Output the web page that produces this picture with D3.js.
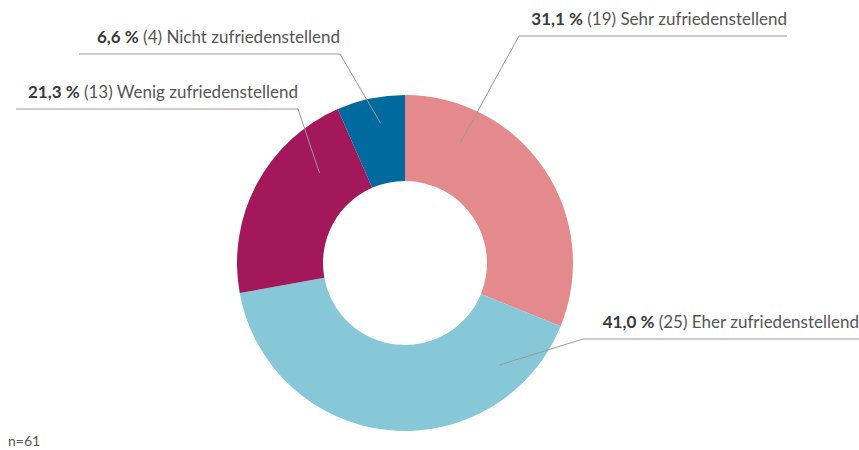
<!DOCTYPE html>
<meta charset="utf-8">
<script src="https://d3js.org/d3.v7.js"></script>
<style>
  body { margin: 0; background: #fff; }
  text { font-family: Lato, "Open Sans", sans-serif; }
</style>
<svg id="chart" width="859" height="450"></svg>
<script>
    // data
    var categories = ["Sehr zufriedenstellend", "Eher zufriedenstellend", "Wenig zufriedenstellend", "Nicht zufriedenstellend"];
    var counts = [19, 25, 13, 4];
    var percents = ["31,1 %", "41,0 %", "21,3 %", "6,6 %"];
    var colors = ["#e48a8d", "#86c7d8", "#a3185a", "#00699e"];
    var total = 61;

    // label layout: where the leader starts inside the slice (0..1 of slice) and where the text sits
    var labelLayout = [
        { frac: 0.22, r: 132, x: 519, y: 36, w: 268, anchor: "start" },
        { frac: 0.17, r: 139, x: 583, y: 339, w: 276, anchor: "start" },
        { frac: 0.74, r: 124, x: 298, y: 109, w: 282, anchor: "end" },
        { frac: 0.58, r: 142, x: 340, y: 54, w: 261, anchor: "end" }
    ];

    var svg = d3.select("svg"),
        cx = 405, cy = 263,
        outerR = 168, innerR = 82;

    var pie = d3.pie().sort(null).value(d => d)
    var arcs = pie(counts)
    var arc = d3.arc().innerRadius(innerR).outerRadius(outerR)

    var g = svg.append("g").attr("transform", "translate(" + cx + "," + cy + ")")

    g.selectAll("path")
        .data(arcs)
        .enter().append("path")
        .attr("d", arc)
        .attr("fill", (d, i) => colors[i])

    // leader lines + labels
    arcs.forEach(function (a, i) {
        var L = labelLayout[i]
        var ang = a.startAngle + (a.endAngle - a.startAngle) * L.frac
        var px = cx + L.r * Math.sin(ang),
            py = cy - L.r * Math.cos(ang)
        var x0 = L.anchor == "start" ? L.x : L.x - L.w,
            x1 = L.anchor == "start" ? L.x + L.w : L.x
        svg.append("polyline")
            .attr("points", [[px, py], [L.x, L.y], [L.anchor == "start" ? x1 : x0, L.y]].map(p => p.join(",")).join(" "))
            .attr("fill", "none")
            .attr("stroke", "#999")
            .attr("stroke-width", 1)

        var t = svg.append("text")
            .attr("x", x1)
            .attr("y", L.y - 11)
            .attr("text-anchor", "end")
            .attr("font-size", 17)
        t.append("tspan").attr("font-weight", "bold").attr("fill", "#3a3a3a").text(percents[i])
        t.append("tspan").attr("fill", "#555").text(" (" + counts[i] + ") " + categories[i])
    })

    svg.append("text")
        .attr("x", 8)
        .attr("y", 446)
        .attr("font-size", 14)
        .attr("fill", "#555")
        .text("n=" + total)
</script>
